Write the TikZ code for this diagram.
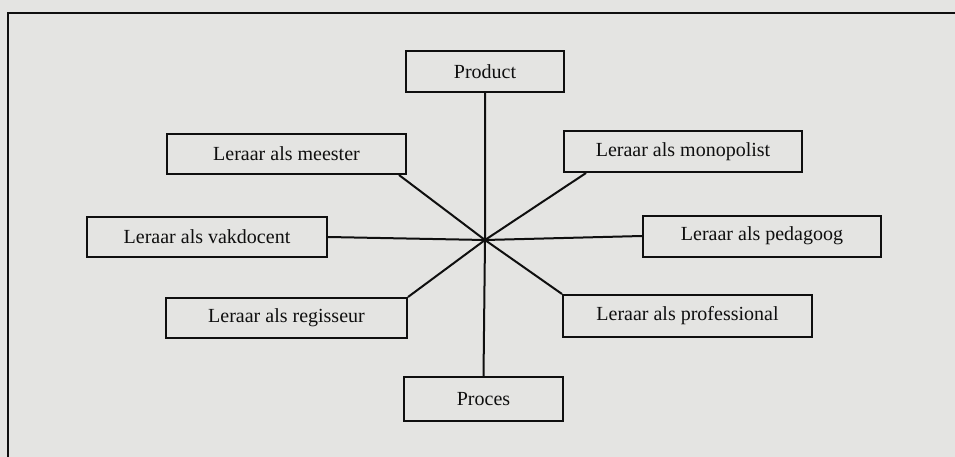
\documentclass[tikz,border=0pt]{standalone}
\usepackage{fontspec}
\setmainfont{Liberation Serif}
\definecolor{paper}{RGB}{228,228,226}
\definecolor{ink}{RGB}{15,15,15}
\begin{document}
\begin{tikzpicture}[x=1pt,y=-1pt,
  rolebox/.style={draw=ink, line width=2pt, inner sep=0pt, minimum width=#1,
    font=\fontsize{20}{22}\selectfont, text=ink},
  spoke/.style={draw=ink, line width=2pt},
  frameline/.style={draw=ink, line width=2pt}]
\fill[paper] (0,0) rectangle (955,457);
\useasboundingbox (0,0) rectangle (955,457);
\draw[frameline] (8,457) -- (8,13) -- (955,13);
\coordinate (c) at (485,240);
\node[rolebox=158pt, minimum height=41pt] (prod) at (485,71.5) {Product};
\node[rolebox=239pt, minimum height=40pt] (meester) at (286.5,154) {Leraar als meester};
\node[rolebox=238pt, minimum height=41pt] (mono) at (683,151.5) {Leraar als monopolist};
\node[rolebox=240pt, minimum height=40pt] (vak) at (207,237) {Leraar als vakdocent};
\node[rolebox=238pt, minimum height=41pt] (ped) at (762,236) {Leraar als pedagoog};
\node[rolebox=241pt, minimum height=40pt] (reg) at (286.5,318) {Leraar als regisseur};
\node[rolebox=249pt, minimum height=42pt] (prof) at (687.5,316) {Leraar als professional};
\node[rolebox=159pt, minimum height=44pt] (proc) at (483.5,399) {Proces};
\draw[spoke] (prod.south) -- (c) -- (proc.north);
\draw[spoke] (vak.east) -- (c) -- (ped.west);
\draw[spoke] ([xshift=-8pt]meester.south east) -- (c);
\draw[spoke] ([xshift=23pt]mono.south west) -- (c);
\draw[spoke] (reg.north east) -- (c);
\draw[spoke] (prof.north west) -- (c);
\end{tikzpicture}
\end{document}
